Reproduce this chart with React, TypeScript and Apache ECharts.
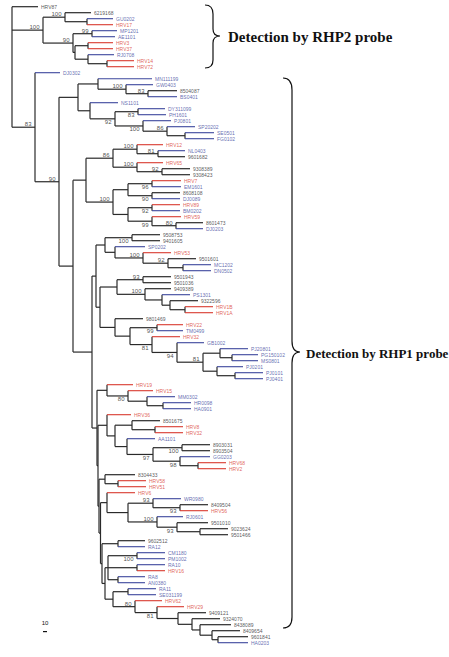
import React, { useEffect, useRef } from "react";
import * as echarts from "echarts";

// Tree fragments (Newick-like): name:depth; internal nodes ")bootstrap:depth" ("b" = value printed under the branch)
const rhp2Clade =
  "((6219168:91,(GU0202:113,HRV17:113):87)100:65,((MP1201:117,AE1101:115)99:92,((HRV3:113,HRV37:113):88,(RJ0708:114,(HRV14:134,HRV72:134):107):88):75)90:73)100:43";
const cladeE =
  "((MN111199:152,(GW0403:153,(8504087:177,BS0401:177)83:148)100:126):98,(NS1101:118,((DY311099:165,PH1601:166)83b:138,(PJ0801:171,(SP20202:195,(SE0501:214,FG0102:214):185)86:167)100b:143)92b:115):90):78";
const cladeO =
  "((HRV12:163,(NL0403:185,9601682:185)81:158)100:137,(HRV65:163,(9308389:190,9308423:190)92:162)100:137)86:113";
const cladeP =
  "(((HRV7:181,EM1601:181)96b:152,(8608108:180,DJ0089:180)90b:152):128,((HRV89:180,BM0202:180)92b:152,(HRV59:181,(8601473:203,DJ0203:203)80:176)99b:152):128)100:113";
const cladeT =
  "((9508753:160,9401605:160)100b:132,(SP0202:145,(HRV53:171,(9501601:196,(MC1202:211,DN0502:211):183)92:168)100:143):115):105";
const cladeU =
  "((9501943:171,9501036:171)93:143,(9409389:171,(PS1301:190,(9322596:198,(HRV1B:213,HRV1A:213):185):170):162)100:145):117";
const cladeW =
  "(9801469:143,((HRV22:183,TM0499:183)99b:157,(HRV32:180,(GB1002:204,((PJ20801:248,(PG150102:258,MS0801:258):232):220,(PJ0201:243,(PJ0101:263,PJ0401:263):235):217)81:203)94b:177)81b:152):130):115";
const cladeZ1 =
  "(HRV19:133,(HRV15:153,(MM0302:175,(HR0098:191,HA0901:191):163):147)80b:128):107";
const cladeZ5 =
  "(HRV36:131,((8501675:160,(HRV8:183,HRV32:183):155):132,(AA1101:155,((8903031:210,8903504:210)100b:182,(GG0203:210,(HRV68:226,HRV2:226):198)98b:180)97b:153):127):115):107";
const cladeHa = "(8304433:135,(HRV58:146,HRV51:146):118):105";
const cladeHb =
  "(HRV6:135,((WR0980:181,(8409504:208,HRV56:208)93b:180)93:153,(RJ0601:183,(9501010:208,(9023624:228,9501466:228):200)93b:177)100:157):128):107";
const cladeG1 = "(9602512:145,RA12:145):118";
const cladeG3 =
  "((CM1180:165,PM1002:165)100b:137,(RA10:165,HRV16:165):137,(RA8:145,AN0380:145):118):108";
const cladeG5 =
  "((RA11:156,SE031199:156):128,(HRV62:162,(HRV29:184,(9409121:206,(9324070:220,(8438089:231,(8409654:240,(9601841:248,HA0203:248):218):212):200):192):178)81b:157)80:135):113";

const outgroup = "HRV87";
const probeTexts = ["Detection by RHP2 probe", "Detection by RHP1 probe"];
const scaleLabel = "10";
const scaleLength = 4;

const X = `(${cladeT},(${cladeU},${cladeW}):100):96`;
const Y = `(${cladeZ1},(${cladeZ5},(${cladeHa},(${cladeHb},(${cladeG1},(${cladeG3},${cladeG5}):105):102):100.5):99):98):97`;
const S = `(${X},${Y}):92`;
const Q = `((${cladeO},${cladeP}):86,${S}):73`;
const M90 = `(${cladeE},${Q})90:59`;
const MAIN = `(DJ0302:60,${M90})83:35`;
const TREE = `(${outgroup}:38,${rhp2Clade},${MAIN}):12`;

type Node = { children: Node[]; name: string; bs: string; x: number; y: number };

function parse(s: string): Node {
  let i = 0;
  function node(): Node {
    const n: Node = { children: [], name: "", bs: "", x: 0, y: 0 };
    if (s[i] === "(") {
      i++;
      n.children.push(node());
      while (s[i] === ",") {
        i++;
        n.children.push(node());
      }
      i++;
    }
    const st = i;
    while (i < s.length && !":,()".includes(s[i])) i++;
    const lab = s.slice(st, i);
    if (n.children.length) n.bs = lab;
    else n.name = lab;
    if (s[i] === ":") {
      i++;
      const st2 = i;
      while (i < s.length && !",()".includes(s[i])) i++;
      n.x = parseFloat(s.slice(st2, i));
    }
    return n;
  }
  return node();
}

const RED = "#d8392f";
const BLUE = "#3b469c";
const BLACK = "#2a2a2a";
const colorOf = (name: string) =>
  name === outgroup ? BLACK : name.startsWith("HRV") ? RED : /^[0-9]/.test(name) ? BLACK : BLUE;

export default function App() {
  const ref = useRef<HTMLDivElement>(null);
  useEffect(() => {
    const root = parse(TREE);
    let leafIdx = 0;
    const segs: number[][] = [];
    const leaves: any[] = [];
    const boots: any[] = [];
    const colors = [BLACK, RED, BLUE];
    function layout(n: Node) {
      if (!n.children.length) {
        n.y = leafIdx++;
      } else {
        n.children.forEach(layout);
        n.y = (n.children[0].y + n.children[n.children.length - 1].y) / 2;
      }
    }
    layout(root);
    function walk(n: Node, parent: Node | null) {
      if (parent) {
        const c = n.children.length ? BLACK : colorOf(n.name);
        segs.push([parent.x, n.y, n.x, n.y, colors.indexOf(c)]);
        if (n.bs) {
          const below = n.bs.endsWith("b");
          boots.push({
            value: [n.x, n.y],
            name: n.bs.replace("b", ""),
            label: { offset: [0, below ? 3.4 : -3.0] },
          });
        }
      }
      if (n.children.length) {
        segs.push([n.x, n.children[0].y, n.x, n.children[n.children.length - 1].y, 0]);
        n.children.forEach((c) => walk(c, n));
      } else {
        leaves.push({ value: [n.x, n.y], name: n.name, label: { color: colorOf(n.name) } });
      }
    }
    walk(root, null);

    echarts.graphic.registerShape(
      "braceTop",
      echarts.graphic.extendPath(
        "M205,5 Q213,5 213,14 L213,29 Q213,36 220,36 Q213,36 213,43 L213,60 Q213,68 205,68",
        {}
      )
    );
    echarts.graphic.registerShape(
      "braceBig",
      echarts.graphic.extendPath(
        "M283,78 Q292,78 292,90 L292,341 Q292,352 300,352 Q292,352 292,363 L292,617 Q292,628 283,628",
        {}
      )
    );

    const chart = echarts.init(ref.current!, null, { renderer: "svg" });
    chart.setOption({
      animation: false,
      backgroundColor: "#fff",
      grid: { left: 0, right: 0, top: 0, bottom: 0 },
      xAxis: { type: "value", min: 0, max: 449, show: false },
      yAxis: { type: "value", min: -1.1167, max: 108.3833, inverse: true, show: false },
      series: [
        {
          type: "custom",
          data: segs,
          encode: { x: [0, 2], y: [1, 3] },
          clip: false,
          silent: true,
          renderItem: (_p: any, api: any) => {
            const a = api.coord([api.value(0), api.value(1)]);
            const b = api.coord([api.value(2), api.value(3)]);
            const ci = api.value(4);
            return {
              type: "line",
              shape: { x1: a[0], y1: a[1], x2: b[0], y2: b[1] },
              style: { stroke: colors[ci], lineWidth: ci === 0 ? 1.2 : 1.1 },
            };
          },
        },
        {
          type: "scatter",
          data: leaves,
          symbolSize: 1,
          silent: true,
          itemStyle: { color: "rgba(0,0,0,0)" },
          label: {
            show: true,
            position: "right",
            distance: 2.5,
            formatter: (p: any) => p.name,
            fontSize: 5,
            fontFamily: "Liberation Sans",
          },
        },
        {
          type: "scatter",
          data: boots,
          symbolSize: 1,
          silent: true,
          itemStyle: { color: "rgba(0,0,0,0)" },
          label: {
            show: true,
            position: "left",
            distance: 3,
            formatter: (p: any) => p.name,
            fontSize: 6,
            color: "#1a1a1a",
            textBorderWidth: 0,
            fontFamily: "Liberation Sans",
          },
        },
      ],
      graphic: [
        { type: "braceTop", x: 0, y: 0, style: { stroke: "#111", fill: "none", lineWidth: 1.2 } },
        { type: "braceBig", x: 0, y: 0, style: { stroke: "#111", fill: "none", lineWidth: 1.2 } },
        {
          type: "text",
          x: 228,
          y: 37,
          style: {
            text: probeTexts[0],
            font: 'bold 15px "Liberation Serif"',
            fill: "#111",
            verticalAlign: "middle",
          },
        },
        {
          type: "text",
          x: 306,
          y: 353,
          style: {
            text: probeTexts[1],
            font: 'bold 13px "Liberation Serif"',
            fill: "#111",
            verticalAlign: "middle",
          },
        },
        {
          type: "text",
          x: 45,
          y: 626,
          style: { text: scaleLabel, font: '6px "Liberation Sans"', fill: "#111", align: "center", verticalAlign: "bottom" },
        },
        { type: "rect", shape: { x: 43, y: 631, width: scaleLength, height: 1.2 }, style: { fill: "#111" } },
      ],
    });
    return () => chart.dispose();
  }, []);
  return (
    <div
      ref={ref}
      style={{ position: "absolute", left: 0, top: 0, width: 449, height: 657, background: "#fff" }}
    />
  );
}
